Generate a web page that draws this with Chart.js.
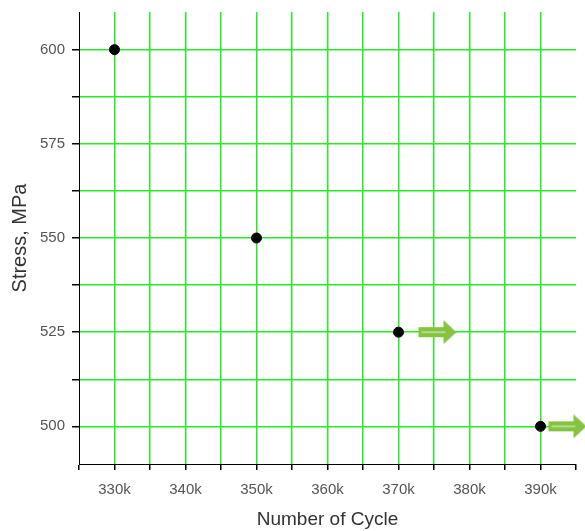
<!DOCTYPE html>
<html>
<head>
<meta charset="utf-8">
<script src="https://cdn.jsdelivr.net/npm/chart.js@4/dist/chart.umd.min.js"></script>
<style>
  html, body { margin: 0; padding: 0; background: #fff; }
  #wrap { width: 585px; height: 531px; }
</style>
</head>
<body>
<div id="wrap"><canvas id="chart" width="585" height="531"></canvas></div>
<script>
// Fatigue test results
const cycles = [330000, 350000, 370000, 390000];
const stress = [600, 550, 525, 500];
// run-out specimens (did not fail)
const runoutCycles = [370000, 390000];
const runoutStress = [525, 500];

// axis ticks
const xTickValues = [325000, 330000, 335000, 340000, 345000, 350000, 355000, 360000, 365000, 370000, 375000, 380000, 385000, 390000, 395000];
const yTickValues = [500, 512.5, 525, 537.5, 550, 562.5, 575, 587.5, 600];

const GRID = '#22ee22';

// arrow marker drawn on its own canvas, shifted right of the point
function makeArrow(gap) {
  const len = 38, h = 24;
  const c = document.createElement('canvas');
  c.width = 2 * (gap + len);
  c.height = h;
  const g = c.getContext('2d');
  const x0 = gap + len + gap;
  g.fillStyle = '#84c441';
  g.fillRect(x0, 7, 26, 10);
  g.beginPath();
  g.moveTo(x0 + 25, 0);
  g.lineTo(x0 + len, h / 2);
  g.lineTo(x0 + 25, h);
  g.closePath();
  g.fill();
  g.fillStyle = '#b5dc8c';
  g.fillRect(x0 + 3, 11, 24, 2);
  return c;
}
const arrows = [makeArrow(20), makeArrow(8)];

new Chart(document.getElementById('chart'), {
  type: 'scatter',
  data: {
    datasets: [
      {
        data: cycles.map((x, i) => ({ x: x, y: stress[i] })),
        backgroundColor: '#000',
        borderColor: '#000',
        pointRadius: 5,
        clip: false
      },
      {
        data: runoutCycles.map((x, i) => ({ x: x, y: runoutStress[i] })),
        pointStyle: ctx => arrows[ctx.dataIndex],
        pointRadius: 12,
        clip: false
      }
    ]
  },
  options: {
    responsive: false,
    animation: false,
    layout: { autoPadding: false, padding: { top: 12, right: 9, left: 0, bottom: 0 } },
    plugins: { legend: { display: false }, tooltip: { enabled: false } },
    scales: {
      x: {
        type: 'linear',
        min: 325000,
        max: 395000,
        afterBuildTicks: s => { s.ticks = xTickValues.map(v => ({ value: v })); },
        afterFit: s => { s.height = 67; s.paddingLeft = 0; s.paddingRight = 0; },
        ticks: {
          autoSkip: false,
          maxRotation: 0,
          padding: 11,
          color: '#555',
          font: { family: 'Liberation Sans', size: 15 },
          callback: v => (v % 10000 === 0 && v !== 325000 && v !== 395000) ? (v / 1000) + 'k' : ''
        },
        grid: {
          color: ctx => (ctx.tick && (ctx.tick.value === 325000 || ctx.tick.value === 395000)) ? 'rgba(0,0,0,0)' : GRID,
          lineWidth: 1.5,
          tickColor: '#000',
          tickLength: 6
        },
        border: { color: '#000', width: 1 },
        title: {
          display: true,
          text: 'Number of Cycle',
          color: '#333',
          font: { family: 'Liberation Sans', size: 19 },
          padding: { top: 1, bottom: 0 }
        }
      },
      y: {
        min: 490,
        max: 610,
        afterBuildTicks: s => { s.ticks = yTickValues.map(v => ({ value: v })); },
        afterFit: s => { s.width = 79; s.paddingTop = 0; s.paddingBottom = 0; },
        ticks: {
          autoSkip: false,
          padding: 7,
          color: '#555',
          font: { family: 'Liberation Sans', size: 15 },
          callback: v => v % 25 === 0 ? String(v) : ''
        },
        grid: {
          color: GRID,
          lineWidth: 1.5,
          tickColor: '#000',
          tickLength: 7
        },
        border: { color: '#000', width: 1 },
        title: {
          display: true,
          text: 'Stress, MPa',
          color: '#333',
          font: { family: 'Liberation Sans', size: 20 },
          padding: { top: 8, bottom: 0 }
        }
      }
    }
  }
});
</script>
</body>
</html>
